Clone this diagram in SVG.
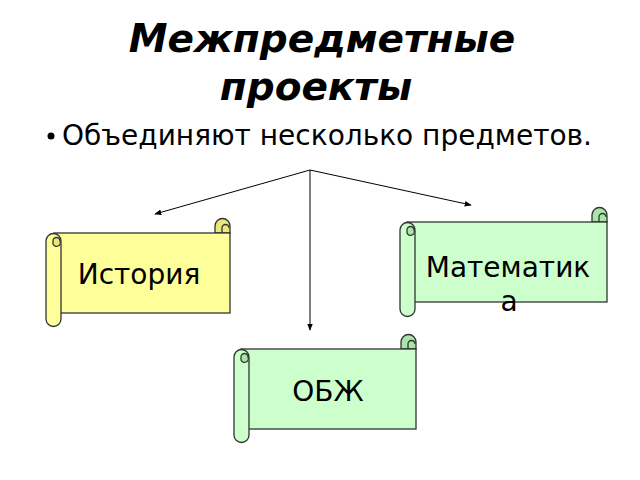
<svg xmlns="http://www.w3.org/2000/svg" width="640" height="480" viewBox="0 0 640 480">
<defs>
<marker id="ah" viewBox="0 0 10 10" refX="9" refY="5" markerWidth="7" markerHeight="7" orient="auto"><path d="M0,1 L10,5 L0,9 Z" fill="#000"/></marker>
<style>
.t{font-family:"DejaVu Sans",sans-serif;fill:#000}
.s{stroke:#333;stroke-width:1.3}
.ln{stroke:#000;stroke-width:1;fill:none;marker-end:url(#ah)}
</style>
</defs>
<rect width="640" height="480" fill="#fff"/>
<text class="t" x="322" y="52" text-anchor="middle" font-size="39" font-weight="bold" font-style="italic">Межпредметные</text>
<text class="t" x="316" y="100" text-anchor="middle" font-size="39" font-weight="bold" font-style="italic">проекты</text>
<circle cx="51" cy="136" r="3.5" fill="#000"/>
<text class="t" x="62" y="145" font-size="28">Объединяют несколько предметов.</text>
<g id="connectors">
<line class="ln" x1="310" y1="170" x2="155" y2="214"/>
<line class="ln" x1="310" y1="170" x2="471" y2="205"/>
<line class="ln" x1="310" y1="170" x2="310" y2="330"/>
</g>
<g id="history">
<path class="s" fill="#e9e97a" d="M215,233 V226 A7.5,7.5 0 0 1 230,226 V233 Z"/>
<rect class="s" x="54" y="233" width="176" height="80" fill="#ffff99"/>
<path class="s" fill="none" d="M222,233 V228 A3.5,3.5 0 0 1 229,228"/>
<path class="s" fill="#ffff99" d="M46,241 A7.5,7.5 0 0 1 61,241 V319 A7.5,7.5 0 0 1 46,319 Z"/>
<path class="s" fill="#e9e97a" d="M53,241 A3.5,3.5 0 0 1 60,241 A3.5,3.5 0 0 1 53,244 Z"/>
<text class="t" x="139" y="284" text-anchor="middle" font-size="28">История</text>
</g>
<g id="math">
<path class="s" fill="#a8e6a8" d="M592,222 V215 A7.5,7.5 0 0 1 607,215 V222 Z"/>
<rect class="s" x="407" y="222" width="200" height="80" fill="#ccffcc"/>
<path class="s" fill="none" d="M599,222 V217 A3.5,3.5 0 0 1 606,217"/>
<path class="s" fill="#ccffcc" d="M400,230 A7.5,7.5 0 0 1 415,230 V309 A7.5,7.5 0 0 1 400,309 Z"/>
<path class="s" fill="#a8e6a8" d="M407,230 A3.5,3.5 0 0 1 414,230 A3.5,3.5 0 0 1 407,233 Z"/>
<text class="t" x="508" y="277" text-anchor="middle" font-size="28">Математик</text>
<text class="t" x="509" y="311" text-anchor="middle" font-size="28">а</text>
</g>
<g id="obzh">
<path class="s" fill="#a8e6a8" d="M401,349 V342 A7.5,7.5 0 0 1 416,342 V349 Z"/>
<rect class="s" x="241" y="349" width="175" height="80" fill="#ccffcc"/>
<path class="s" fill="none" d="M408,349 V344 A3.5,3.5 0 0 1 415,344"/>
<path class="s" fill="#ccffcc" d="M234,357 A7.5,7.5 0 0 1 249,357 V435 A7.5,7.5 0 0 1 234,435 Z"/>
<path class="s" fill="#a8e6a8" d="M241,357 A3.5,3.5 0 0 1 248,357 A3.5,3.5 0 0 1 241,360 Z"/>
<text class="t" x="328" y="401" text-anchor="middle" font-size="28">ОБЖ</text>
</g>
</svg>
